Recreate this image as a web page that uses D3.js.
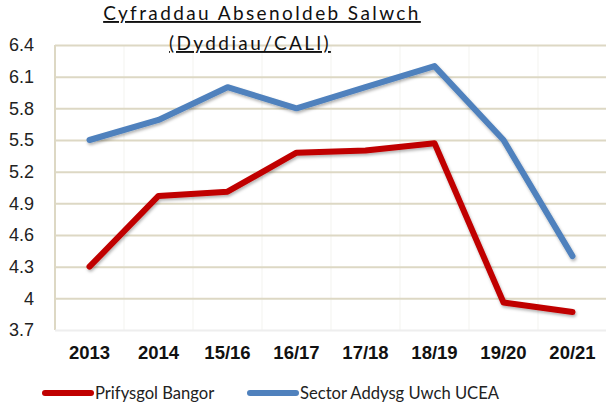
<!DOCTYPE html>
<html>
<head>
<meta charset="utf-8">
<script src="https://cdn.jsdelivr.net/npm/d3@7"></script>
<style>
  body { margin: 0; background: #fff; }
  svg { font-family: Lato, "Open Sans", sans-serif; }
</style>
</head>
<body>
<div id="chart"></div>
<script>
//Chart data
const categories = ["2013", "2014", "15/16", "16/17", "17/18", "18/19", "19/20", "20/21"];
const bangor = [4.3, 4.97, 5.01, 5.38, 5.4, 5.47, 3.96, 3.87];
const sector = [5.5, 5.69, 6.0, 5.8, 6.0, 6.2, 5.5, 4.4];
const yTicks = [3.7, 4, 4.3, 4.6, 4.9, 5.2, 5.5, 5.8, 6.1, 6.4];
const seriesNames = ["Prifysgol Bangor", "Sector Addysg Uwch UCEA"];
const seriesColors = ["#C00000", "#4F81BD"];
const titleLines = ["Cyfraddau Absenoldeb Salwch", "(Dyddiau/CALl)"];

const w = 606;
const h = 407;
const margin = { top: 45, right: -1, bottom: 77, left: 55 };

const svg = d3.select("#chart").append("svg").attr("width", w).attr("height", h);

const xScale = d3.scaleBand().domain(categories).range([margin.left, w - margin.right]);
const yScale = d3.scaleLinear().domain([3.7, 6.4]).range([h - margin.bottom, margin.top]);

//shadow for lines
const defs = svg.append("defs");
const filter = defs.append("filter").attr("id", "shadow").attr("x", "-10%").attr("y", "-10%").attr("width", "120%").attr("height", "130%");
filter.append("feDropShadow").attr("dx", 1).attr("dy", 2).attr("stdDeviation", 1.5).attr("flood-color", "#000").attr("flood-opacity", 0.3);

//vertical faint gridlines
svg.append("g")
  .selectAll("line")
  .data(categories.slice(1))
  .enter()
  .append("line")
  .attr("x1", (d) => xScale(d))
  .attr("x2", (d) => xScale(d))
  .attr("y1", margin.top)
  .attr("y2", h - margin.bottom)
  .attr("stroke", "#F3F3EF")
  .attr("stroke-width", 1);

//y axis with horizontal gridlines
const yAxis = d3.axisLeft(yScale)
  .tickValues(yTicks)
  .tickFormat((d) => String(+d.toFixed(1)))
  .tickSize(-(w - margin.right - margin.left))
  .tickPadding(21);

svg.append("g")
  .attr("transform", `translate(${margin.left},0)`)
  .call(yAxis)
  .call((g) => g.select(".domain").attr("stroke", "#DDD8C4").attr("stroke-width", 2).attr("d", `M0,${margin.top}V${h - margin.bottom}`))
  .call((g) => g.selectAll(".tick line").attr("stroke", (d) => (d === 3.7 ? "#EEEEEE" : "#DDD8C4")).attr("stroke-width", 2))
  .call((g) => g.selectAll(".tick text").attr("font-size", 18).attr("fill", "#222"));

//x axis
const xAxis = d3.axisBottom(xScale).tickSize(0).tickPadding(16);
svg.append("g")
  .attr("transform", `translate(0,${h - margin.bottom})`)
  .call(xAxis)
  .call((g) => g.select(".domain").remove())
  .call((g) => g.selectAll(".tick text").attr("font-size", 18.5).attr("font-weight", "bold").attr("fill", "#111"));

//lines
const line = d3.line()
  .x((d, i) => xScale(categories[i]) + xScale.bandwidth() / 2)
  .y((d) => yScale(d));

[sector, bangor].forEach((values, k) => {
  svg.append("path")
    .datum(values)
    .attr("d", line)
    .attr("fill", "none")
    .attr("stroke", k === 0 ? seriesColors[1] : seriesColors[0])
    .attr("stroke-width", 6)
    .attr("stroke-linecap", "round")
    .attr("stroke-linejoin", "round")
    .attr("filter", "url(#shadow)");
});

//title
const titleX = [262, 250];
const title = svg.append("text")
  .attr("text-anchor", "middle")
  .attr("font-size", 19)
  .attr("letter-spacing", 2.4)
  .attr("text-decoration", "underline")
  .attr("fill", "#111");
titleLines.forEach((t, i) => {
  title.append("tspan").attr("x", titleX[i]).attr("y", 20 + i * 30).text(t);
});

//legend
const legendX = [45, 250];
const legend = svg.append("g").attr("transform", `translate(0,393)`);
seriesNames.forEach((name, i) => {
  legend.append("line")
    .attr("x1", legendX[i])
    .attr("x2", legendX[i] + 46)
    .attr("stroke", seriesColors[i])
    .attr("stroke-width", 6)
    .attr("stroke-linecap", "round");
  legend.append("text")
    .attr("x", legendX[i] + 50)
    .attr("dy", "0.35em")
    .attr("font-size", 16.6)
    .attr("fill", "#222")
    .text(name);
});
</script>
</body>
</html>
